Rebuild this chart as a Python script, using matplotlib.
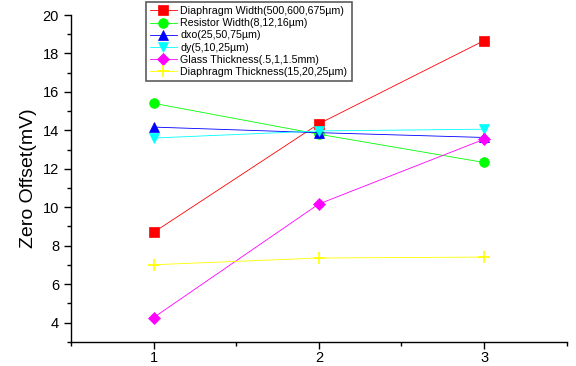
import numpy as np
import matplotlib
matplotlib.use('Agg')
import matplotlib.pyplot as plt
from matplotlib.ticker import MultipleLocator

plt.rcParams['font.family'] = ['Liberation Sans', 'DejaVu Sans']

levels = [1, 2, 3]
diaphragm_width = [8.69, 14.34, 18.67]
resistor_width = [15.41, 13.80, 12.33]
dxo = [14.17, 13.88, 13.63]
dy = [13.60, 13.97, 14.06]
glass_thickness = [4.26, 10.17, 13.54]
diaphragm_thickness = [7.01, 7.36, 7.41]

labels = ['Diaphragm Width(500,600,675µm)', 'Resistor Width(8,12,16µm)',
          'dxo(25,50,75µm)', 'dy(5,10,25µm)', 'Glass Thickness(.5,1,1.5mm)',
          'Diaphragm Thickness(15,20,25µm)']
series = [diaphragm_width, resistor_width, dxo, dy, glass_thickness, diaphragm_thickness]
colors = ['#ff0000', '#00ff00', '#0000ff', '#00ffff', '#ff00ff', '#ffff00']
markers = ['s', 'o', '^', 'v', 'D', '+']

fig = plt.figure(figsize=(5.76, 3.66), dpi=100)
ax = fig.add_axes([0.123, 0.066, 0.861, 0.893])

for vals, lab, c, m in zip(series, labels, colors, markers):
    ms = 6 if m == 'D' else 7
    if m == '+':
        ms = 8
    ax.plot(levels, vals, color=c, marker=m, markersize=ms, linewidth=0.6,
            markeredgewidth=1.2 if m == '+' else 0.5, label=lab)

ax.set_xlim(0.5, 3.5)
ax.set_ylim(3, 20)
ax.set_xticks([1, 2, 3])
ax.xaxis.set_minor_locator(MultipleLocator(0.5))
ax.set_yticks(np.arange(4, 21, 2))
ax.yaxis.set_minor_locator(MultipleLocator(1))
ax.spines['top'].set_visible(False)
ax.spines['right'].set_visible(False)
ax.spines['left'].set_linewidth(1.0)
ax.spines['bottom'].set_linewidth(1.0)
ax.tick_params(which='major', direction='out', length=5, width=1, labelsize=10.5)
ax.tick_params(which='minor', direction='out', length=3, width=1)
ax.tick_params(axis='x', pad=1.5)
ax.set_ylabel('Zero Offset(mV)', fontsize=14)

leg = ax.legend(loc='upper left', bbox_to_anchor=(0.151, 1.04),
                prop={'size': 7.7},
                frameon=True, fancybox=False, edgecolor='#333333',
                handlelength=2.5, borderpad=0.4, labelspacing=0.2,
                handletextpad=0.35, borderaxespad=0, markerscale=1.0)
leg.get_frame().set_linewidth(1.2)

fig.savefig('out.png', dpi=100)
